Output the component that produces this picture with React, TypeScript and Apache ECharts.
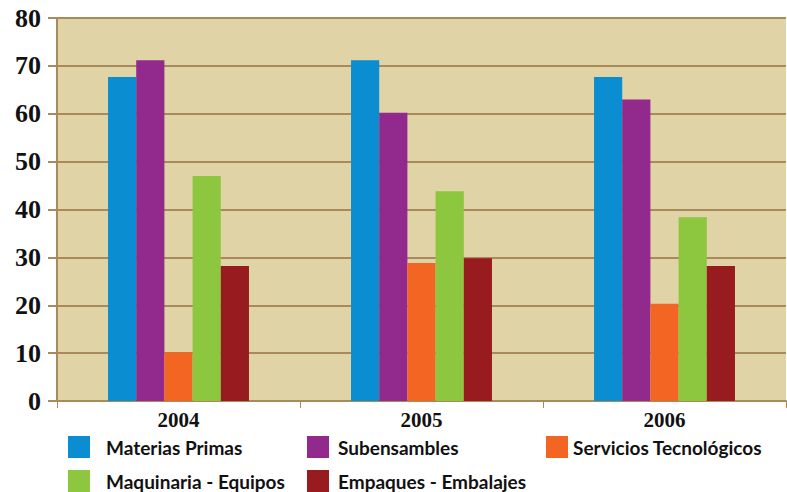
import React, { useEffect, useRef } from "react";
import * as echarts from "echarts";

const categories = ["2004", "2005", "2006"];
const seriesNames = [
  "Materias Primas",
  "Subensambles",
  "Servicios Tecnológicos",
  "Maquinaria - Equipos",
  "Empaques - Embalajes",
];
const materiasPrimas = [67.7, 71.2, 67.7];
const subensambles = [71.2, 60.2, 63.0];
const serviciosTecnologicos = [10.2, 28.8, 20.3];
const maquinariaEquipos = [47.0, 43.8, 38.4];
const empaquesEmbalajes = [28.2, 29.8, 28.2];
const yTicks = [0, 10, 20, 30, 40, 50, 60, 70, 80];

const colors = ["#0a8ed1", "#912a8c", "#f26522", "#8dc63f", "#981b1f"];
const brown = "#a88a5c";

export default function App() {
  const ref = useRef<HTMLDivElement>(null);
  useEffect(() => {
    if (!ref.current) return;
    const chart = echarts.init(ref.current, null, { renderer: "svg" });
    const values = [
      materiasPrimas,
      subensambles,
      serviciosTecnologicos,
      maquinariaEquipos,
      empaquesEmbalajes,
    ];
    const legendText = {
      fontFamily: "Lato",
      fontWeight: "bold" as const,
      fontSize: 19,
      color: "#111",
    };
    chart.setOption({
      animation: false,
      backgroundColor: "#fff",
      grid: {
        left: 57,
        right: 1,
        top: 18,
        bottom: 91,
        show: true,
        backgroundColor: "#e0d3a6",
        borderWidth: 0,
      },
      legend: [
        {
          left: 68,
          top: 436,
          orient: "vertical",
          padding: 0,
          itemWidth: 22,
          itemHeight: 22,
          itemGap: 12,
          icon: "rect",
          data: [seriesNames[0], seriesNames[3]],
          textStyle: { ...legendText, padding: [0, 0, 0, 11] },
        },
        {
          left: 307,
          top: 436,
          orient: "vertical",
          padding: 0,
          itemWidth: 22,
          itemHeight: 22,
          itemGap: 12,
          icon: "rect",
          data: [seriesNames[1], seriesNames[4]],
          textStyle: { ...legendText, padding: [0, 0, 0, 4] },
        },
        {
          left: 546,
          top: 436,
          orient: "vertical",
          padding: 0,
          itemWidth: 22,
          itemHeight: 22,
          itemGap: 12,
          icon: "rect",
          data: [seriesNames[2]],
          textStyle: { ...legendText, padding: [0, 0, 0, 0] },
        },
      ],
      xAxis: {
        type: "category",
        data: categories,
        axisLine: { lineStyle: { color: brown, width: 2 } },
        axisTick: { show: true, interval: 0, length: 7, lineStyle: { color: brown, width: 1 } },
        axisLabel: {
          fontFamily: "Liberation Serif",
          fontWeight: "bold",
          fontSize: 21,
          color: "#111",
          margin: 8,
        },
      },
      yAxis: {
        type: "value",
        min: yTicks[0],
        max: yTicks[yTicks.length - 1],
        interval: 10,
        axisLine: { show: true, lineStyle: { color: brown, width: 2 } },
        axisTick: { show: true, length: 9, lineStyle: { color: brown, width: 2 } },
        splitLine: { lineStyle: { color: brown, width: 2 } },
        axisLabel: {
          fontFamily: "Liberation Serif",
          fontWeight: "bold",
          fontSize: 26,
          color: "#111",
          margin: 16,
        },
      },
      series: seriesNames.map((name, i) => ({
        name,
        type: "bar",
        data: values[i],
        barGap: "0%",
        barCategoryGap: "42%",
        itemStyle: { color: colors[i] },
      })),
    });
    return () => chart.dispose();
  }, []);
  return <div ref={ref} style={{ width: 787, height: 492, position: "absolute", left: 0, top: 0 }} />;
}
